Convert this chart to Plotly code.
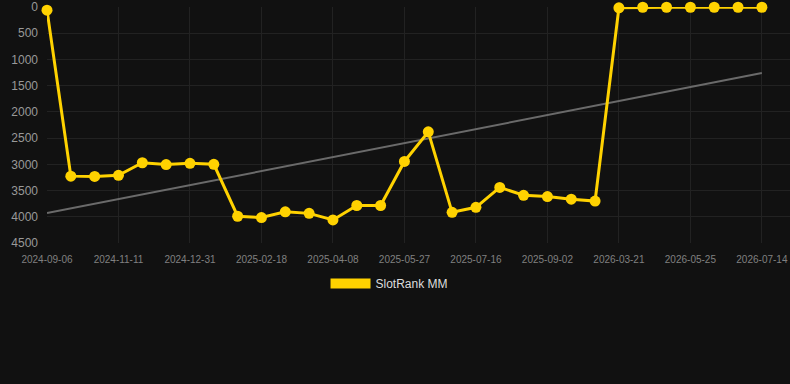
import plotly.graph_objects as go

dates = [
    "2024-09-06", "2024-09-28", "2024-10-20", "2024-11-11", "2024-11-27", "2024-12-14",
    "2024-12-31", "2025-01-16", "2025-02-02", "2025-02-18", "2025-03-06", "2025-03-22",
    "2025-04-08", "2025-04-24", "2025-05-10", "2025-05-27", "2025-06-12", "2025-06-29",
    "2025-07-16", "2025-08-01", "2025-08-17", "2025-09-02", "2025-09-18", "2025-10-04",
    "2026-03-21", "2026-04-12", "2026-05-03", "2026-05-25", "2026-06-10", "2026-06-27",
    "2026-07-14",
]
rank = [
    60, 3225, 3230, 3210, 2970, 3005, 2980, 3000, 3990, 4015,
    3905, 3935, 4060, 3785, 3785, 2945, 2380, 3915, 3820, 3440,
    3590, 3615, 3665, 3700, 15, 5, 5, 5, 5, 5,
    5,
]
trend_ends = [3930, 1260]
y_ticks = [0, 500, 1000, 1500, 2000, 2500, 3000, 3500, 4000, 4500]

gold = "#FFD200"
bg = "#111111"

fig = go.Figure()
fig.add_trace(go.Scatter(
    x=[dates[0], dates[-1]], y=trend_ends, mode="lines",
    line=dict(color="#6a6a6a", width=2), showlegend=False, hoverinfo="skip",
))
fig.add_trace(go.Scatter(
    x=dates, y=rank, mode="lines+markers", name="SlotRank MM",
    line=dict(color=gold, width=3), marker=dict(color=gold, size=11),
    cliponaxis=False, showlegend=False,
))
fig.add_trace(go.Scatter(
    x=[None], y=[None], mode="lines", name="SlotRank MM",
    line=dict(color=gold, width=10), showlegend=True,
))

fig.update_layout(
    width=790, height=384,
    margin=dict(l=47, r=0, t=7, b=141),
    paper_bgcolor=bg, plot_bgcolor=bg,
    font=dict(family="Liberation Sans, Arial, sans-serif"),
    showlegend=True,
    legend=dict(
        orientation="h", x=0.461, xanchor="center", y=-0.172, yanchor="middle",
        font=dict(size=12, color="#dddddd"), itemwidth=40, bgcolor="rgba(0,0,0,0)",
    ),
    xaxis=dict(
        type="category", categoryorder="array", categoryarray=dates,
        range=[0, 31.18], tickmode="linear", tick0=0, dtick=3,
        showgrid=True, gridcolor="#222222", gridwidth=1,
        zeroline=False, showline=False, ticks="",
        ticklabelstandoff=9,
        tickfont=dict(size=10, color="#808080"),
    ),
    yaxis=dict(
        range=[4500, 0], tickmode="array", tickvals=y_ticks,
        showgrid=True, gridcolor="#222222", gridwidth=1,
        zeroline=False, showline=False, ticks="",
        ticklabelstandoff=8,
        tickfont=dict(size=12, color="#999999"),
    ),
)

fig.write_html("out.html")
